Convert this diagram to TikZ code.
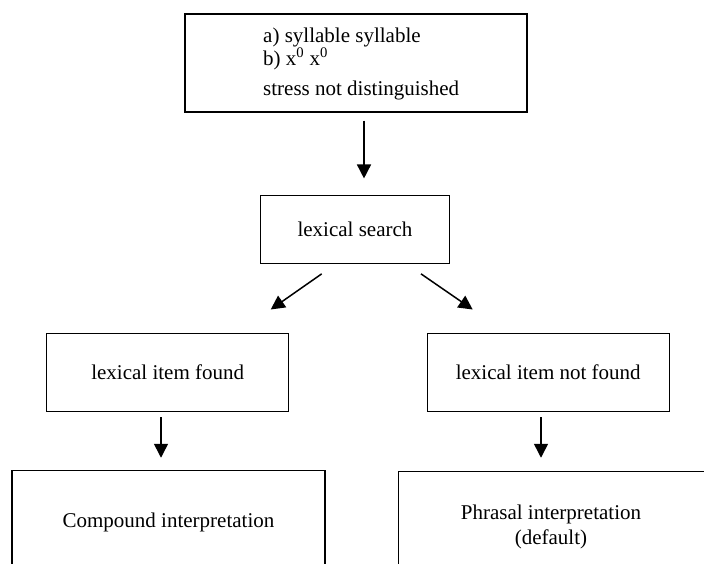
\documentclass[tikz,border=0pt]{standalone}
\usepackage{fontspec}
\setmainfont{Liberation Serif}
\usetikzlibrary{arrows.meta,calc}
\begin{document}
\begin{tikzpicture}[x=1pt,y=-1pt,
  every node/.style={font=\fontsize{21}{25}\selectfont},
  box/.style={draw=black,line width=1.1pt,rectangle,inner sep=0pt,align=center},
  txt/.style={inner sep=0pt,anchor=base west},
  arr/.style={line width=1.5pt,-{Triangle[length=14pt,width=14pt]}}]
\useasboundingbox (0,0) rectangle (704,563);
\clip (0,0) rectangle (704,563);
% top box
\node[box,minimum width=342pt,minimum height=98pt] (top) at (356,63) {};
\node[txt] (l1) at (263,42) {a) syllable syllable};
\node[txt] (l2) at (263,65) {b) x\textsuperscript{0} x\textsuperscript{0}};
\node[txt] (l3) at (263,95) {stress not distinguished};
% lexical search
\node[box,minimum width=188.6pt,minimum height=67.6pt] (ls) at (355,229.5) {lexical search};
% second level
\node[box,minimum width=242pt,minimum height=77.7pt] (found) at (167.7,372.2) {lexical item found};
\node[box,minimum width=242.3pt,minimum height=77.7pt] (notfound) at (548.2,372.2) {lexical item not found};
% bottom boxes (cut off by page edge)
\node[box,minimum width=313pt,minimum height=104.3pt] (comp) at (168.5,522.85) {Compound interpretation};
\node[box,minimum width=307.3pt,minimum height=110pt] (phr) at (552.35,526.7) {};
\node[inner sep=0pt,align=center] (phrtext) at (551,526.7) {Phrasal interpretation\\(default)};
% arrows
\draw[arr] ($(top.south)+(8,8)$) -- ($(ls.north)+(9,-16.7)$);
\draw[arr] ($(ls.south)+(-33.3,10)$) -- ($(found.north)+(103,-23.3)$);
\draw[arr] ($(ls.south)+(66,10)$) -- ($(notfound.north)+(-75.5,-23.3)$);
\draw[arr] ($(found.south)+(-6.7,5.7)$) -- ($(comp.north)+(-7.5,-12.4)$);
\draw[arr] ($(notfound.south)+(-7.2,5.7)$) -- ($(phr.north)+(-11.35,-13.4)$);
\end{tikzpicture}
\end{document}
